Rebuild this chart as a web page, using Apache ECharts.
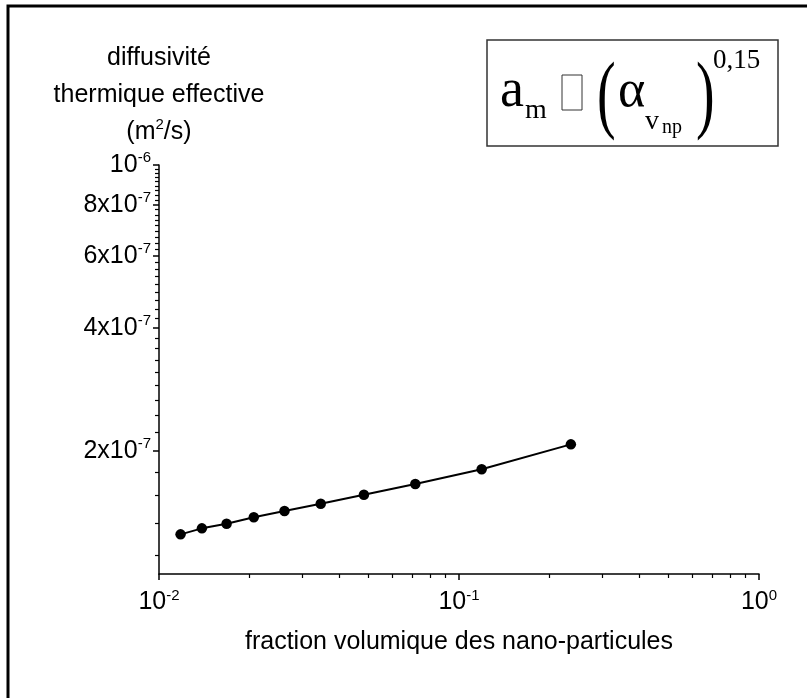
<!DOCTYPE html>
<html>
<head>
<meta charset="utf-8">
<script src="https://cdn.jsdelivr.net/npm/echarts@6.0.0/dist/echarts.min.js"></script>
<style>
  html, body { margin: 0; padding: 0; background: #fff; }
  #chart { width: 807px; height: 698px; }
</style>
</head>
<body>
<div id="chart"></div>
<script>
  // values (log-log)
  const fractions = [0.0118, 0.0139, 0.0168, 0.0207, 0.0262, 0.0346, 0.0482, 0.0715, 0.119, 0.236];
  const diffusivities = [1.25e-7, 1.293e-7, 1.327e-7, 1.376e-7, 1.426e-7, 1.485e-7, 1.563e-7, 1.66e-7, 1.803e-7, 2.075e-7];

  const xMajorTicks = [0.01, 0.1, 1];
  const xTickLabels = ['10{s|-2}', '10{s|-1}', '10{s|0}'];
  const yMajorTicks = [2e-7, 4e-7, 6e-7, 8e-7, 1e-6];
  const yTickLabels = ['2x10{s|-7}', '4x10{s|-7}', '6x10{s|-7}', '8x10{s|-7}', '10{s|-6}'];

  // minor ticks: 2..9 per decade on x, steps of 2/9 x 10^-7 on y (like the original)
  const xMinorTicks = [];
  [0.01, 0.1].forEach(d => { for (let k = 2; k <= 9; k++) xMinorTicks.push(k * d); });
  const yMinorTicks = [];
  for (let k = 5; k <= 45; k++) if (k % 9) yMinorTicks.push(k * 2e-7 / 9);

  const pick = (ticks, labels) => val => {
    const i = ticks.findIndex(t => Math.abs(t - val) / t < 1e-6);
    return i < 0 ? '' : labels[i];
  };

  const labelRich = {
    s: { fontSize: 15, fontFamily: 'Liberation Sans', color: '#000', padding: [0, 0, 14, 0] }
  };
  const baseFont = { fontSize: 25, fontFamily: 'Liberation Sans', color: '#000' };
  const serif = 'Liberation Serif';

  const chart = echarts.init(document.getElementById('chart'));

  const option = {
    animation: false,
    backgroundColor: '#fff',
    grid: { left: 159, top: 165, right: 48, bottom: 124 },
    xAxis: [
      {
        type: 'log',
        logBase: 10,
        min: 0.01,
        max: 1,
        name: 'fraction volumique des nano-particules',
        nameLocation: 'middle',
        nameGap: 56,
        nameTextStyle: baseFont,
        axisLine: { lineStyle: { color: '#000', width: 1.5 } },
        axisTick: { customValues: xMajorTicks, length: 6, lineStyle: { color: '#000', width: 1.5 } },
        axisLabel: Object.assign({ customValues: xMajorTicks, margin: 14, rich: labelRich,
          formatter: pick(xMajorTicks, xTickLabels) }, baseFont),
        splitLine: { show: false }
      },
      {
        type: 'log',
        logBase: 10,
        min: 0.01,
        max: 1,
        position: 'bottom',
        axisLine: { show: false },
        axisTick: { inside: false, customValues: xMinorTicks, length: 4, lineStyle: { color: '#000', width: 1.2 } },
        axisLabel: { show: false },
        splitLine: { show: false }
      }
    ],
    yAxis: [
      {
        type: 'log',
        logBase: 10,
        min: 1e-7,
        max: 1e-6,
        name: 'diffusivité\nthermique effective\n(m{sup|2}/s)',
        nameLocation: 'end',
        nameGap: 9,
        nameTextStyle: Object.assign({ align: 'center', verticalAlign: 'bottom', lineHeight: 37,
          rich: { sup: { fontSize: 15, fontFamily: 'Liberation Sans', color: '#000', padding: [0, 0, 14, 0] } } }, baseFont),
        axisLine: { show: true, lineStyle: { color: '#000', width: 1.5 } },
        axisTick: { show: true, customValues: yMajorTicks, length: 6, lineStyle: { color: '#000', width: 1.5 } },
        axisLabel: Object.assign({ customValues: yMajorTicks, margin: 8, rich: labelRich,
          formatter: pick(yMajorTicks, yTickLabels) }, baseFont),
        splitLine: { show: false }
      },
      {
        type: 'log',
        logBase: 10,
        min: 1e-7,
        max: 1e-6,
        position: 'left',
        axisLine: { show: false },
        axisTick: { show: true, customValues: yMinorTicks, length: 4, lineStyle: { color: '#000', width: 1.2 } },
        axisLabel: { show: false },
        splitLine: { show: false }
      }
    ],
    series: [
      {
        type: 'line',
        data: fractions.map((f, i) => [f, diffusivities[i]]),
        symbol: 'circle',
        symbolSize: 10.5,
        itemStyle: { color: '#000' },
        lineStyle: { color: '#000', width: 2 },
        clip: false
      }
    ],
    graphic: [
      // frame round the whole figure
      { type: 'rect', shape: { x: 8, y: 6, width: 840, height: 740 },
        style: { fill: 'none', stroke: '#000', lineWidth: 3 }, silent: true },
      // formula box
      { type: 'rect', shape: { x: 487, y: 40, width: 291, height: 106 },
        style: { fill: '#fff', stroke: '#333', lineWidth: 1.5 } },
      { type: 'text', style: { text: 'a', x: 500, y: 92, font: '54px ' + serif, fill: '#000', verticalAlign: 'middle' } },
      { type: 'text', style: { text: 'm', x: 525, y: 111, font: '28px ' + serif, fill: '#000', verticalAlign: 'middle' } },
      { type: 'rect', shape: { x: 562, y: 75, width: 20, height: 35 },
        style: { fill: 'none', stroke: '#333', lineWidth: 1 } },
      { type: 'text', x: 597, y: 0, scaleX: 0.65, style: { text: '(', x: 0, y: 99, font: '86px ' + serif, fill: '#000', verticalAlign: 'middle' } },
      { type: 'text', style: { text: 'α', x: 618, y: 92, font: '52px ' + serif, fill: '#000', verticalAlign: 'middle' } },
      { type: 'text', style: { text: 'v', x: 645, y: 122, font: '28px ' + serif, fill: '#000', verticalAlign: 'middle' } },
      { type: 'text', style: { text: 'np', x: 662, y: 128, font: '20px ' + serif, fill: '#000', verticalAlign: 'middle' } },
      { type: 'text', x: 696, y: 0, scaleX: 0.65, style: { text: ')', x: 0, y: 99, font: '86px ' + serif, fill: '#000', verticalAlign: 'middle' } },
      { type: 'text', style: { text: '0,15', x: 713, y: 61, font: '27px ' + serif, fill: '#000', verticalAlign: 'middle' } }
    ]
  };

  chart.setOption(option);
</script>
</body>
</html>
